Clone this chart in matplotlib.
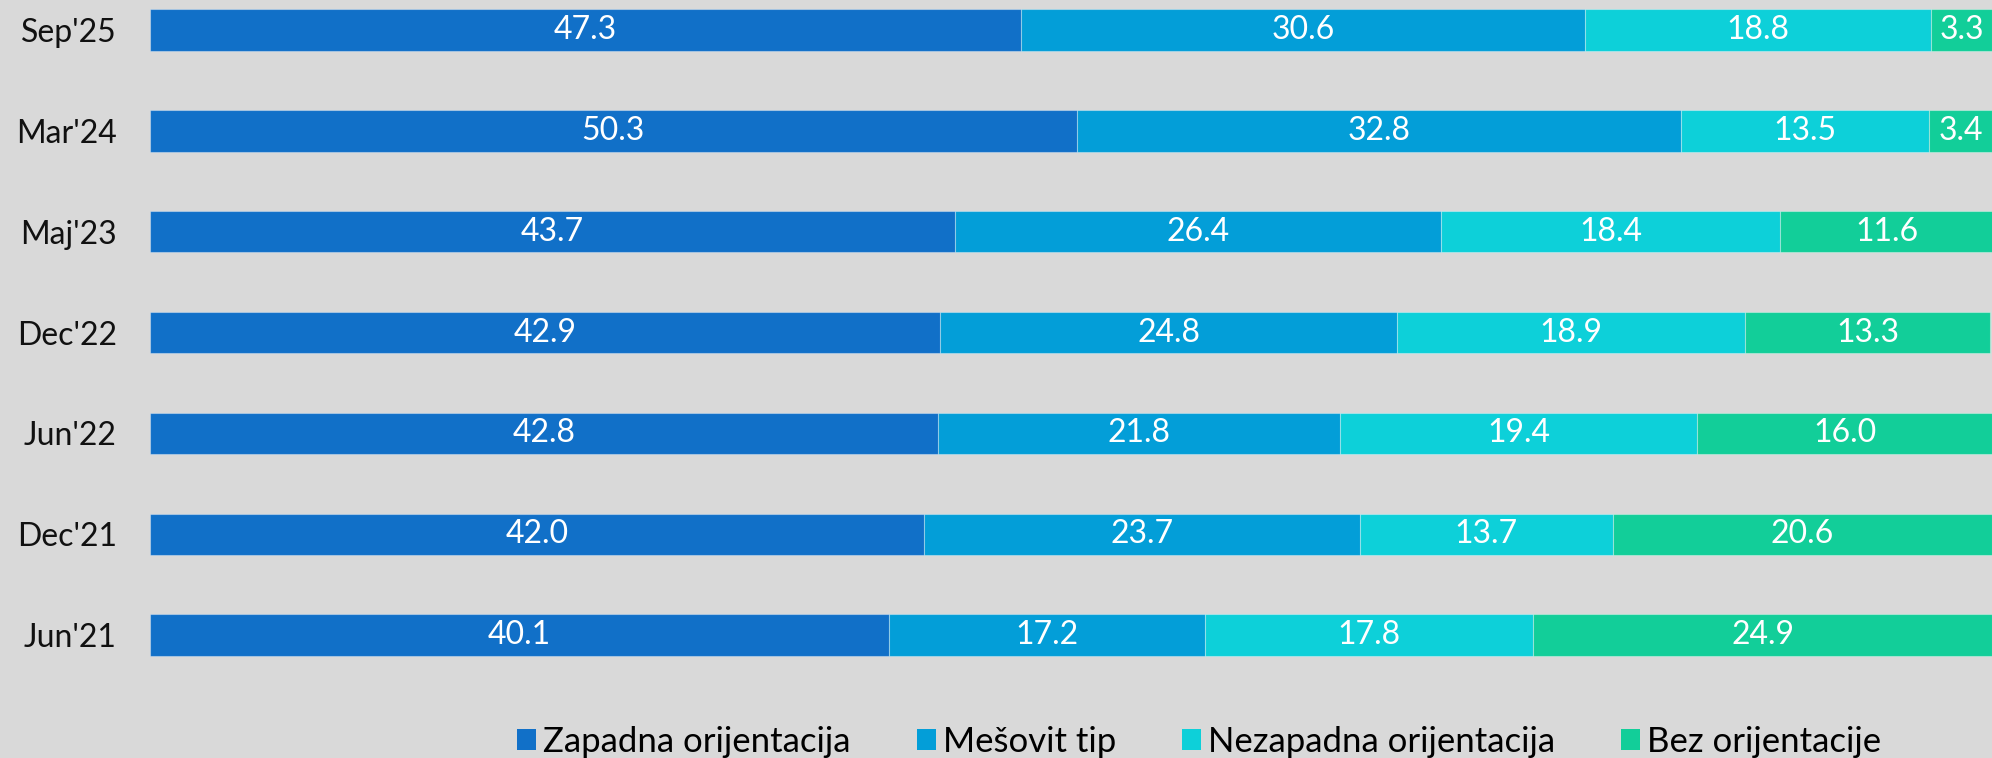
import matplotlib
matplotlib.use("Agg")
import matplotlib.pyplot as plt
from matplotlib.patches import Patch

plt.rcParams['font.family'] = ['Lato', 'DejaVu Sans']

periods = ["Jun'21", "Dec'21", "Jun'22", "Dec'22", "Maj'23", "Mar'24", "Sep'25"]
zapadna = [40.1, 42.0, 42.8, 42.9, 43.7, 50.3, 47.3]
mesovit = [17.2, 23.7, 21.8, 24.8, 26.4, 32.8, 30.6]
nezapadna = [17.8, 13.7, 19.4, 18.9, 18.4, 13.5, 18.8]
bez = [24.9, 20.6, 16.0, 13.3, 11.6, 3.4, 3.3]

series_names = ["Zapadna orijentacija", "Mešovit tip", "Nezapadna orijentacija", "Bez orijentacije"]
colors = ["#1170C8", "#039ED8", "#0DD0D9", "#12CE99"]
bg = "#D9D9D9"

fig = plt.figure(figsize=(19.92, 7.58), dpi=100, facecolor=bg)
ax = fig.add_axes([150 / 1992, 0, 1842 / 1992, 1])
ax.set_facecolor(bg)

y = list(range(len(periods)))
left = [0.0] * len(periods)
for vals, col in zip([zapadna, mesovit, nezapadna, bez], colors):
    ax.barh(y, vals, left=left, height=0.41, color=col,
            edgecolor=(1, 1, 1, 0.35), linewidth=0.8)
    for yi, l, v in zip(y, left, vals):
        ax.text(l + v / 2, yi, f"{v:.1f}", ha="center", va="center",
                color="white", fontsize=23)
    left = [a + b for a, b in zip(left, vals)]

ax.set_xlim(0, 100)
ax.set_ylim(-1.22, 6.298)
ax.set_yticks(y)
ax.set_yticklabels(periods, fontsize=23, color="#111111")
ax.tick_params(axis="y", length=0, pad=24)
ax.set_xticks([])
for s in ax.spines.values():
    s.set_visible(False)

handles = [Patch(facecolor=c, edgecolor="none") for c in colors]
fig.legend(handles, series_names, loc="center", bbox_to_anchor=(0.602, 0.021),
           ncol=4, frameon=False, handlelength=0.55, handleheight=0.55,
           handletextpad=0.2, columnspacing=1.9,
           prop={"size": 25})

fig.savefig("out.png", dpi=100, facecolor=bg)
